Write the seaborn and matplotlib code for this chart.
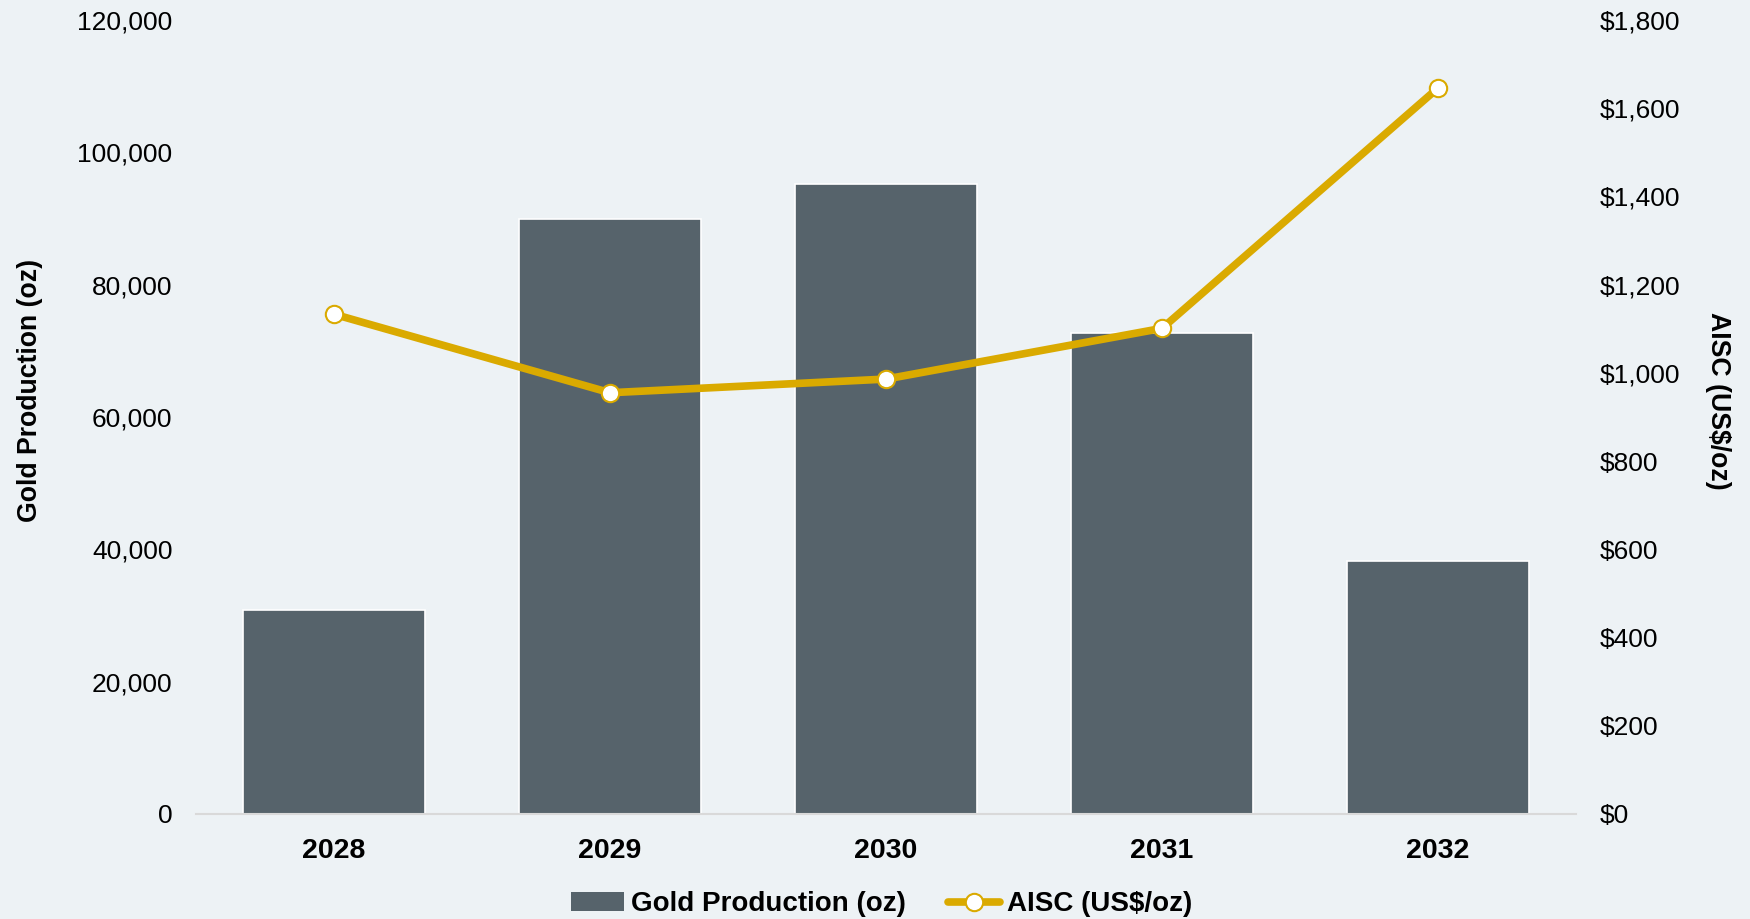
import numpy as np
import pandas as pd
import matplotlib
matplotlib.use("Agg")
import matplotlib.pyplot as plt
import seaborn as sns
from matplotlib.patches import Patch
from matplotlib.lines import Line2D
from matplotlib.ticker import FuncFormatter, MultipleLocator

# Chart data
years = ["2028", "2029", "2030", "2031", "2032"]
gold_oz = [30800, 90000, 95200, 72700, 38200]
aisc = [1133, 955, 986, 1101, 1646]

bg = "#EDF2F5"
bar_col = "#56636B"
gold = "#DAAA00"

sns.set_style("white", {"axes.facecolor": bg, "figure.facecolor": bg,
                        "text.color": "black", "axes.labelcolor": "black"})
plt.rcParams["font.family"] = ["Liberation Sans", "DejaVu Sans"]

df = pd.DataFrame({"Year": years, "Gold": gold_oz, "AISC": aisc})

fig = plt.figure(figsize=(17.5, 9.19), dpi=100)
ax = fig.add_axes([0.112, 0.1143, 0.7886, 0.8639])
ax2 = ax.twinx()

# bars on primary axis
sns.barplot(data=df, x="Year", y="Gold", color=bar_col, saturation=1,
            width=0.66, edgecolor="white", linewidth=1.2, ax=ax)

# AISC line on secondary axis
sns.pointplot(data=df, x="Year", y="AISC", color=gold, errorbar=None,
              markers="o", linewidth=5.5, markersize=12.5,
              markerfacecolor="white", markeredgecolor=gold,
              markeredgewidth=1.5, ax=ax2)

ax.set_xlim(-0.5, 4.5)
ax2.set_xlim(-0.5, 4.5)
ax.set_ylim(0, 120000)
ax2.set_ylim(0, 1800)
ax.yaxis.set_major_locator(MultipleLocator(20000))
ax2.yaxis.set_major_locator(MultipleLocator(200))
ax.yaxis.set_major_formatter(FuncFormatter(lambda v, p: f"{v:,.0f}"))
ax2.yaxis.set_major_formatter(FuncFormatter(lambda v, p: f"${v:,.0f}"))

ax.tick_params(axis="y", length=0, pad=17, labelsize=19, labelcolor="black")
ax2.tick_params(axis="y", length=0, pad=17, labelsize=19, labelcolor="black")
ax.tick_params(axis="x", length=0, pad=17, labelsize=20.5, labelcolor="black")
for t in ax.get_xticklabels():
    t.set_fontweight("bold")
ax2.set_xlabel("")
ax.set_xlabel("")

for a in (ax, ax2):
    for s in ["top", "left", "right", "bottom"]:
        a.spines[s].set_visible(False)
ax.spines["bottom"].set_visible(True)
ax.spines["bottom"].set_color("#D9D9D9")
ax.spines["bottom"].set_linewidth(1.5)
ax.grid(False)
ax2.grid(False)

ax.set_ylabel("Gold Production (oz)", fontsize=19.2, fontweight="bold", color="black")
ax.yaxis.set_label_coords(-0.111, 0.534)
ax2.set_ylabel("AISC (US$/oz)", fontsize=19.2, fontweight="bold", rotation=-90, color="black")
ax2.yaxis.set_label_coords(1.112, 0.52)

handles = [
    Patch(facecolor=bar_col, edgecolor="none"),
    Line2D([0], [0], color=gold, linewidth=5.5, marker="o", markersize=12.5,
           markerfacecolor="white", markeredgecolor=gold, markeredgewidth=1.5),
]
leg = fig.legend(handles, ["Gold Production (oz)", "AISC (US$/oz)"],
                 loc="center", bbox_to_anchor=(0.504, 0.016), ncol=2, frameon=False,
                 prop={"size": 20, "weight": "bold"}, handlelength=1.9,
                 handletextpad=0.25, columnspacing=1.5)
for t in leg.get_texts():
    t.set_color("black")

fig.savefig("out.png", dpi=100, facecolor=bg)
